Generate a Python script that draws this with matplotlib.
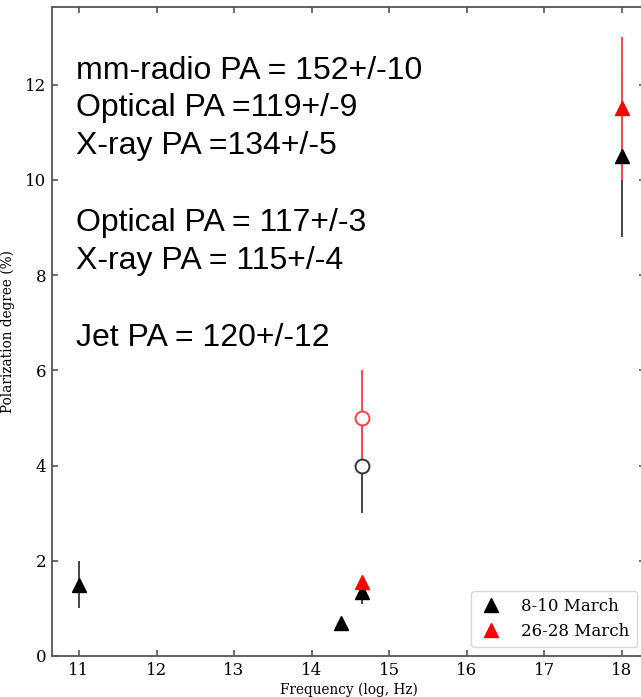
import matplotlib
matplotlib.use("Agg")
import matplotlib.pyplot as plt
from matplotlib.lines import Line2D

# 8-10 March (black) and 26-28 March (red); triangles and open circles
march8_tri_x = [11.0, 14.38, 14.65, 18.0]
march8_tri_y = [1.5, 0.7, 1.35, 10.5]
march8_tri_err = [0.5, 0.0, 0.25, 1.7]

march26_tri_x = [14.65, 18.0]
march26_tri_y = [1.55, 11.5]
march26_tri_err = [0.0, 1.5]

march8_circ_x = [14.65]
march8_circ_y = [4.0]
march8_circ_err = [1.0]

march26_circ_x = [14.65]
march26_circ_y = [5.0]
march26_circ_err = [1.0]

pa_lines = [
    "mm-radio PA = 152+/-10",
    "Optical PA =119+/-9",
    "X-ray PA =134+/-5",
    "",
    "Optical PA = 117+/-3",
    "X-ray PA = 115+/-4",
    "",
    "Jet PA = 120+/-12",
]

x_ticks = [11, 12, 13, 14, 15, 16, 17, 18]
y_ticks = [0, 2, 4, 6, 8, 10, 12]

W, H = 641, 697
fig = plt.figure(figsize=(W / 100, H / 100), dpi=100)
ax = fig.add_axes([52 / W, 41 / H, 593 / W, 649 / H])

black_err = "#444444"
red_err = "#ff4a4a"

# error bars first
ax.errorbar(march8_circ_x, march8_circ_y, yerr=march8_circ_err, fmt="none",
            ecolor=black_err, elinewidth=1.4, zorder=2)
ax.errorbar(march8_tri_x, march8_tri_y, yerr=march8_tri_err, fmt="none",
            ecolor=black_err, elinewidth=1.4, zorder=2)
ax.errorbar(march26_circ_x, march26_circ_y, yerr=march26_circ_err, fmt="none",
            ecolor=red_err, elinewidth=1.4, zorder=3)
ax.errorbar(march26_tri_x, march26_tri_y, yerr=march26_tri_err, fmt="none",
            ecolor=red_err, elinewidth=1.4, zorder=3)

# markers on top
ax.plot(march8_circ_x, march8_circ_y, "o", ms=10, mfc="white", mec="#333333",
        mew=1.4, ls="none", zorder=4)
ax.plot(march26_circ_x, march26_circ_y, "o", ms=10, mfc="white", mec="#ff4040",
        mew=1.4, ls="none", zorder=4)
ax.plot(march8_tri_x, march8_tri_y, "^", ms=10.5, color="black", ls="none", zorder=4)
ax.plot(march26_tri_x, march26_tri_y, "^", ms=10.5, color="red", ls="none", zorder=5)

ax.set_xlim(10.652, 18.3)
ax.set_ylim(0, 13.63)
ax.set_xticks(x_ticks)
ax.set_yticks(y_ticks)
ax.tick_params(direction="in", top=True, right=True, length=4, width=1.2,
               color="#555555", labelsize=12, pad=4)
for lab in ax.get_xticklabels() + ax.get_yticklabels():
    lab.set_family("DejaVu Serif")
for sp in ax.spines.values():
    sp.set_color("#555555")
    sp.set_linewidth(1.3)

ax.set_xlabel("Frequency (log, Hz)", family="DejaVu Serif", fontsize=9.8, labelpad=3)
ax.set_ylabel("Polarization degree (%)", family="DejaVu Serif", fontsize=9.8, labelpad=7)

handles = [
    Line2D([], [], marker="^", color="black", ls="none", ms=10.5),
    Line2D([], [], marker="^", color="red", ls="none", ms=10.5),
]
leg = ax.legend(handles, ["8-10 March", "26-28 March"], loc="lower right",
                bbox_to_anchor=(637 / W, 50 / H), bbox_transform=fig.transFigure,
                borderaxespad=0, prop={"family": "DejaVu Serif", "size": 12},
                frameon=True, handletextpad=1.05, borderpad=0.45,
                labelspacing=0.45, handlelength=1.5)
leg.get_frame().set_edgecolor("#cccccc")

# annotation block, one line of text each
baselines = [79, 116, 154, 192, 231, 269, 308, 346]
for line, yb in zip(pa_lines, baselines):
    if line:
        fig.text(76 / W, 1 - yb / H, line, family="Liberation Sans", fontsize=23.0,
                 va="baseline", ha="left", color="black")

fig.savefig("out.png", dpi=100)
